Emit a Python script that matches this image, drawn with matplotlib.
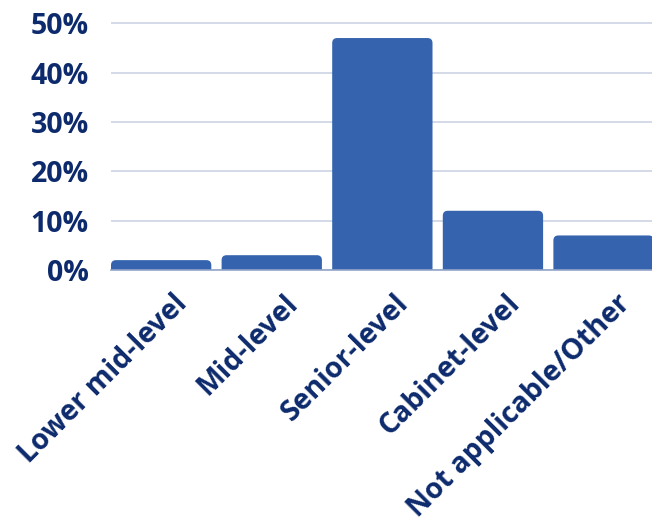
import matplotlib
matplotlib.use("Agg")
import matplotlib.pyplot as plt
from matplotlib.patches import FancyBboxPatch
from matplotlib.transforms import ScaledTranslation
from matplotlib.ticker import FuncFormatter

categories = ["Lower mid-level", "Mid-level", "Senior-level", "Cabinet-level", "Not applicable/Other"]
values = [2, 3, 47, 12, 7]
yticks = [0, 10, 20, 30, 40, 50]

bar_color = "#3563AE"
text_color = "#0C2A6C"
grid_color = "#C7D0E1"

plt.rcParams['font.family'] = ['Open Sans', 'DejaVu Sans']

W, H = 652, 526
fig = plt.figure(figsize=(W / 100, H / 100), dpi=100)
left_px, right_px = 111, 653.7
bottom_px, top_px = 270, 18.3
ax = fig.add_axes([left_px / W, 1 - bottom_px / H, (right_px - left_px) / W, (bottom_px - top_px) / H])

width = 0.907
bars = ax.bar(range(len(categories)), values, width=width, color=bar_color)
ax.set_xlim(-width / 2, len(categories) - 1 + width / 2)
ax.set_ylim(0, 51)

# rounded top corners
px_x = (right_px - left_px) / (len(categories) - 1 + width)
px_y = (bottom_px - top_px) / 51
aspect = px_x / px_y
r = 5 / px_x
for rect in bars:
    x, y0 = rect.get_x(), rect.get_y()
    w, h = rect.get_width(), rect.get_height()
    rect.set_visible(False)
    ext = r * aspect * 1.5
    p = FancyBboxPatch((x, y0 - ext), w, h + ext,
                       boxstyle=f"round,pad=0,rounding_size={r}",
                       mutation_aspect=aspect, facecolor=bar_color,
                       edgecolor="none", zorder=3)
    ax.add_patch(p)

ax.set_yticks(yticks)
ax.yaxis.set_major_formatter(FuncFormatter(lambda v, pos: f"{int(v)}%"))
ax.grid(axis="y", color=grid_color, linewidth=1.1, zorder=0)
ax.set_axisbelow(True)
ax.axhline(0, color="#93A5C9", linewidth=1.2, zorder=4, clip_on=False)
for s in ax.spines.values():
    s.set_visible(False)
ax.tick_params(axis="both", length=0, colors=text_color)
ax.tick_params(axis="y", pad=16)

for lab in ax.get_yticklabels():
    lab.set_fontsize(20.5)
    lab.set_fontweight("bold")
    lab.set_color(text_color)

ax.set_xticks(range(len(categories)))
ax.set_xticklabels(categories, rotation=45, ha="right", va="top",
                   rotation_mode="anchor", fontsize=20.5, fontweight="bold", color=text_color)
off = ScaledTranslation(12 / 100, -14 / 100, fig.dpi_scale_trans)
for lab in ax.get_xticklabels():
    lab.set_transform(lab.get_transform() + off)

fig.savefig("out.png", dpi=100)
